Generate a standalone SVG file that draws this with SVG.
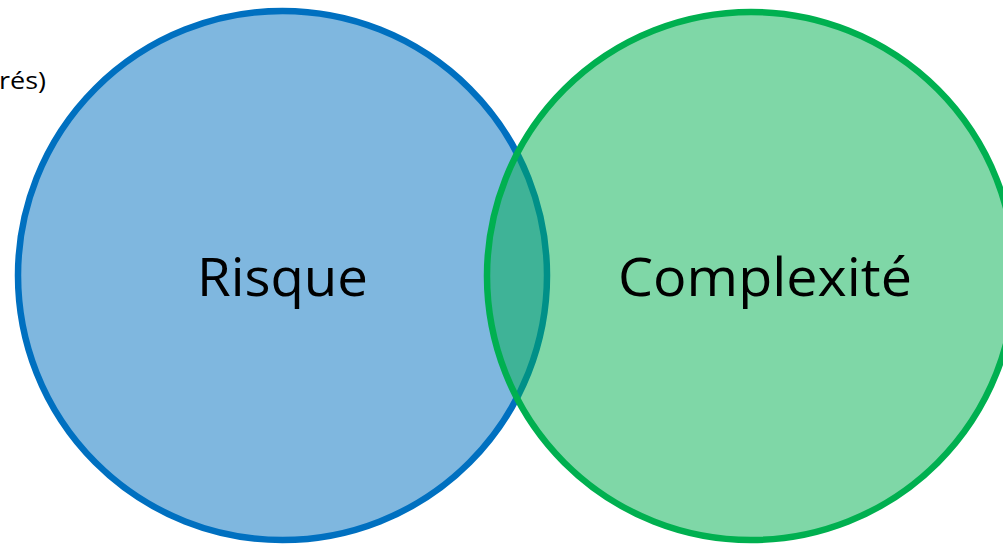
<svg xmlns="http://www.w3.org/2000/svg" width="1003" height="544" viewBox="0 0 1003 544">
  <style>
    .lbl { font-family: "Open Sans", "Liberation Sans", sans-serif; fill: #000; }
    .big { font-size: 53px; }
    .small { font-size: 23px; }
  </style>
  <rect width="1003" height="544" fill="#ffffff"/>
  <text class="lbl small" x="-1" y="89" textLength="47" lengthAdjust="spacingAndGlyphs">rés)</text>
  <g id="risque">
    <circle cx="282.5" cy="275.5" r="264.5" fill="#0070C0" fill-opacity="0.5" stroke="#0070C0" stroke-width="6.5"/>
    <text class="lbl big" x="197" y="296" textLength="171" lengthAdjust="spacingAndGlyphs">Risque</text>
  </g>
  <g id="complexite">
    <circle cx="751" cy="276" r="264" fill="#00B050" fill-opacity="0.5" stroke="#00B050" stroke-width="6.5"/>
    <text class="lbl big" x="618" y="296" textLength="294" lengthAdjust="spacingAndGlyphs">Complexité</text>
  </g>
  <g id="connectors"></g>
</svg>
